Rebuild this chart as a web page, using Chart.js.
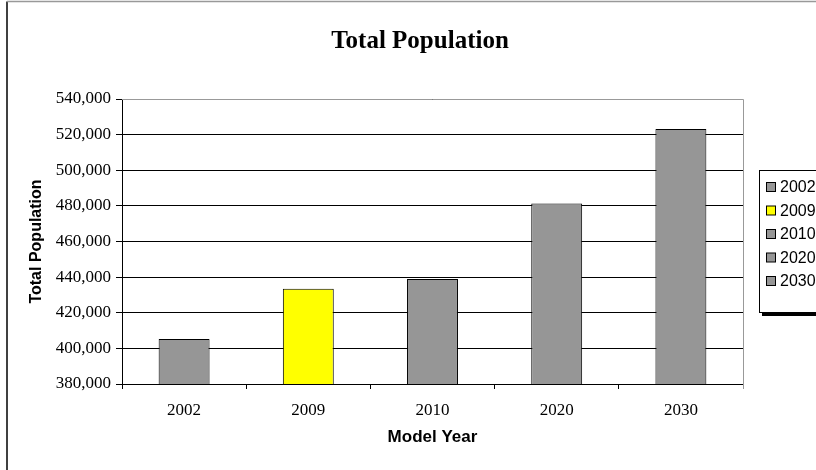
<!DOCTYPE html>
<html>
<head>
<meta charset="utf-8">
<script src="https://cdn.jsdelivr.net/npm/chart.js@4/dist/chart.umd.min.js"></script>
<style>
  body { margin: 0; background: #fff; }
  canvas { display: block; }
</style>
</head>
<body>
<canvas id="popChart" width="816" height="470"></canvas>
<script>
// data
const modelYears = ["2002", "2009", "2010", "2020", "2030"];
const totalPopulation = [405200, 433500, 439000, 481400, 523100];
const barColors = ["#969696", "#ffff00", "#969696", "#969696", "#969696"];
const yTicks = [380000, 400000, 420000, 440000, 460000, 480000, 500000, 520000, 540000];

// outer frame, chart title and the plot area border
const framePlugin = {
    id: "frame",
    beforeDraw(chart) {
        let ctx = chart.ctx;
        ctx.save();
        ctx.fillStyle = "#fff";
        ctx.fillRect(0, 0, chart.width, chart.height);
        ctx.strokeStyle = "#000";
        ctx.lineWidth = 1.5;
        ctx.beginPath();
        ctx.moveTo(7, 470);
        ctx.lineTo(7, 1.5);
        ctx.stroke();
        ctx.strokeStyle = "#999";
        ctx.beginPath();
        ctx.moveTo(7, 1.5);
        ctx.lineTo(816, 1.5);
        ctx.stroke();

        ctx.fillStyle = "#000";
        ctx.font = "bold 25px 'Liberation Serif'";
        ctx.textAlign = "center";
        ctx.textBaseline = "middle";
        ctx.fillText("Total Population", 420, 42);
        ctx.restore();
    },
    beforeDatasetsDraw(chart) {
        let { left, right, top, bottom } = chart.chartArea;
        let ctx = chart.ctx;
        ctx.save();
        ctx.strokeStyle = "#999";
        ctx.lineWidth = 1;
        ctx.beginPath();
        ctx.moveTo(left, top + 0.5);
        ctx.lineTo(right + 0.5, top + 0.5);
        ctx.lineTo(right + 0.5, bottom + 5);
        ctx.stroke();
        ctx.restore();
    }
};

// Excel-style legend box on the right, partly cut off by the edge
const sideLegend = {
    id: "sideLegend",
    afterDraw(chart) {
        let ctx = chart.ctx;
        let labels = chart.data.labels;
        let colors = chart.data.datasets[0].backgroundColor;
        ctx.save();
        ctx.fillStyle = "#000";
        ctx.fillRect(762, 312, 60, 4);
        ctx.fillStyle = "#fff";
        ctx.fillRect(759.5, 170.5, 70, 142);
        ctx.strokeStyle = "#000";
        ctx.lineWidth = 1;
        ctx.strokeRect(759.5, 170.5, 70, 142);
        ctx.font = "16px 'Liberation Sans'";
        ctx.textBaseline = "middle";
        ctx.textAlign = "left";
        labels.forEach((lab, i) => {
            let y = 187 + i * 23.5;
            ctx.fillStyle = colors[i];
            ctx.fillRect(766.5, y - 4.5, 9, 9);
            ctx.strokeStyle = "#000";
            ctx.strokeRect(766.5, y - 4.5, 9, 9);
            ctx.fillStyle = "#000";
            ctx.fillText(lab, 780, y + 1);
        });
        ctx.restore();
    }
};

let ctx = document.getElementById("popChart").getContext("2d");
new Chart(ctx, {
    type: "bar",
    data: {
        labels: modelYears,
        datasets: [{
            label: "Total Population",
            data: totalPopulation,
            backgroundColor: barColors,
            borderColor: "#000",
            borderWidth: 1,
            barPercentage: 0.41,
            categoryPercentage: 1
        }]
    },
    options: {
        responsive: false,
        animation: false,
        layout: { padding: { top: 99, right: 73, bottom: 0, left: 0 } },
        plugins: {
            legend: { display: false },
            title: { display: false },
            tooltip: { enabled: false }
        },
        scales: {
            x: {
                afterFit: scale => { scale.height = 86; },
                grid: { drawOnChartArea: false, drawTicks: true, tickLength: 5, color: "#000" },
                border: { color: "#000", width: 1 },
                ticks: {
                    color: "#000",
                    padding: 11,
                    font: { family: "'Liberation Serif'", size: 17 }
                },
                title: {
                    display: true,
                    text: "Model Year",
                    color: "#000",
                    font: { family: "'Liberation Sans'", size: 17, weight: "bold" },
                    padding: { top: 0, bottom: 22 }
                }
            },
            y: {
                min: yTicks[0],
                max: yTicks[yTicks.length - 1],
                afterFit: scale => { scale.width = 122; },
                afterBuildTicks: scale => { scale.ticks = yTicks.map(v => ({ value: v })); },
                grid: { color: "#000", lineWidth: 1, tickLength: 6 },
                border: { color: "#000", width: 1 },
                ticks: {
                    color: "#000",
                    padding: 5,
                    font: { family: "'Liberation Serif'", size: 17 },
                    callback: v => v.toLocaleString("en-US")
                },
                title: {
                    display: true,
                    text: "Total Population",
                    color: "#000",
                    font: { family: "'Liberation Sans'", size: 16, weight: "bold" },
                    padding: { top: 27, bottom: 0 }
                }
            }
        }
    },
    plugins: [framePlugin, sideLegend]
});
</script>
</body>
</html>
